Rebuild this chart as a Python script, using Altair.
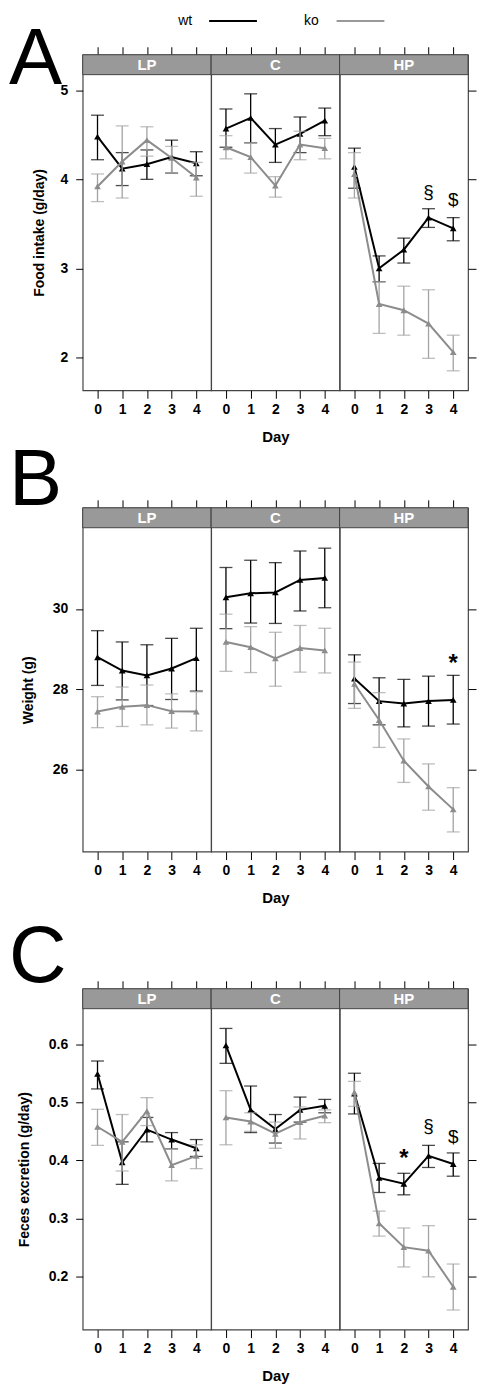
import altair as alt
import pandas as pd

days = [0, 1, 2, 3, 4]
groups = ["LP", "C", "HP"]
genotypes = ["wt", "ko"]

# ---- A: Food intake (g/day)
food_wt_mean = {"LP": [4.48, 4.12, 4.17, 4.25, 4.18], "C": [4.57, 4.69, 4.39, 4.51, 4.66], "HP": [4.14, 3.00, 3.21, 3.57, 3.45]}
food_wt_lo = {"LP": [4.22, 3.93, 4.00, 4.07, 4.04], "C": [4.36, 4.41, 4.19, 4.30, 4.49], "HP": [3.90, 2.85, 3.06, 3.46, 3.31]}
food_wt_hi = {"LP": [4.72, 4.30, 4.33, 4.44, 4.31], "C": [4.79, 4.96, 4.57, 4.70, 4.80], "HP": [4.35, 3.14, 3.34, 3.67, 3.57]}
food_ko_mean = {"LP": [3.92, 4.20, 4.44, 4.24, 4.02], "C": [4.36, 4.25, 3.93, 4.39, 4.35], "HP": [4.06, 2.60, 2.53, 2.38, 2.06]}
food_ko_lo = {"LP": [3.75, 3.79, 4.26, 4.07, 3.81], "C": [4.23, 4.07, 3.80, 4.22, 4.23], "HP": [3.79, 2.27, 2.25, 1.99, 1.85]}
food_ko_hi = {"LP": [4.06, 4.60, 4.59, 4.37, 4.19], "C": [4.49, 4.41, 4.03, 4.54, 4.46], "HP": [4.30, 2.85, 2.80, 2.76, 2.25]}
food_note_group = ["HP", "HP"]
food_note_day = [3, 4]
food_note_y = [3.86, 3.77]
food_note_label = ["§", "$"]

# ---- B: Weight (g)
weight_wt_mean = {"LP": [28.80, 28.47, 28.35, 28.52, 28.78], "C": [30.29, 30.39, 30.41, 30.72, 30.77], "HP": [28.27, 27.71, 27.65, 27.71, 27.74]}
weight_wt_lo = {"LP": [28.10, 27.74, 27.60, 27.75, 27.96], "C": [29.51, 29.65, 29.64, 29.95, 30.03], "HP": [27.65, 27.12, 27.07, 27.09, 27.14]}
weight_wt_hi = {"LP": [29.46, 29.18, 29.11, 29.27, 29.52], "C": [31.03, 31.21, 31.15, 31.44, 31.51], "HP": [28.86, 28.29, 28.25, 28.33, 28.35]}
weight_ko_mean = {"LP": [27.45, 27.57, 27.61, 27.46, 27.45], "C": [29.18, 29.05, 28.77, 29.03, 28.97], "HP": [28.14, 27.24, 26.23, 25.59, 25.02]}
weight_ko_lo = {"LP": [27.05, 27.08, 27.12, 27.04, 26.97], "C": [28.45, 28.42, 28.08, 28.43, 28.41], "HP": [27.53, 26.56, 25.69, 25.00, 24.46]}
weight_ko_hi = {"LP": [27.82, 28.06, 28.11, 27.89, 27.94], "C": [29.87, 29.56, 29.42, 29.59, 29.52], "HP": [28.68, 27.92, 26.77, 26.15, 25.56]}
weight_note_group = ["HP"]
weight_note_day = [4]
weight_note_y = [28.78]
weight_note_label = ["*"]

# ---- C: Feces excretion (g/day)
feces_wt_mean = {"LP": [0.549, 0.397, 0.453, 0.436, 0.421], "C": [0.598, 0.487, 0.454, 0.487, 0.494], "HP": [0.515, 0.370, 0.360, 0.408, 0.394]}
feces_wt_lo = {"LP": [0.523, 0.359, 0.432, 0.420, 0.407], "C": [0.567, 0.448, 0.430, 0.466, 0.482], "HP": [0.480, 0.345, 0.341, 0.388, 0.373]}
feces_wt_hi = {"LP": [0.571, 0.432, 0.474, 0.448, 0.436], "C": [0.627, 0.528, 0.479, 0.509, 0.505], "HP": [0.550, 0.395, 0.378, 0.426, 0.413]}
feces_ko_mean = {"LP": [0.458, 0.432, 0.485, 0.392, 0.408], "C": [0.474, 0.467, 0.446, 0.466, 0.477], "HP": [0.517, 0.292, 0.251, 0.245, 0.183]}
feces_ko_lo = {"LP": [0.426, 0.382, 0.460, 0.365, 0.386], "C": [0.427, 0.450, 0.421, 0.437, 0.465], "HP": [0.493, 0.270, 0.217, 0.200, 0.143]}
feces_ko_hi = {"LP": [0.488, 0.479, 0.508, 0.420, 0.427], "C": [0.520, 0.482, 0.466, 0.492, 0.487], "HP": [0.536, 0.313, 0.284, 0.288, 0.222]}
feces_note_group = ["HP", "HP", "HP"]
feces_note_day = [2, 3, 4]
feces_note_y = [0.412, 0.460, 0.440]
feces_note_label = ["*", "§", "$"]

# ---- styling
FONT = "Liberation Sans"
FRAME = "#444444"
STRIP_FILL = "#999999"
LINE_COLOR = {"wt": "#000000", "ko": "#8c8c8c"}
BAR_COLOR = {"wt": "#000000", "ko": "#a3a3a3"}
LEGEND_COLOR = {"wt": "#000000", "ko": "#999999"}
PW = 129
STRIP_H = 20
X_DOM = [-0.6, 4.6]


def build_df(means, los, his):
    rows = []
    for gt in genotypes:
        for g in groups:
            for i, d in enumerate(days):
                rows.append({"genotype": gt, "group": g, "day": d,
                             "mean": means[gt][g][i], "lo": los[gt][g][i], "hi": his[gt][g][i]})
    return pd.DataFrame(rows)


def notes_df(g, d, y, lab):
    return pd.DataFrame({"group": g, "day": d, "y": y, "label": lab})


def one(text):
    return pd.DataFrame({"t": [text]})


def make_panel(df, notes, g, idx, spec, extras):
    H = spec["H"]
    xs = alt.Scale(domain=X_DOM, nice=False, zero=False)
    ys = alt.Scale(domain=spec["ydom"], nice=False, zero=False)
    bottom_axis = alt.Axis(orient="bottom", values=days, format="d",
                           title="Day" if idx == 1 else None,
                           tickSize=8, labelPadding=4, titlePadding=13,
                           domain=False, grid=False)
    top_axis = alt.Axis(orient="top", values=days, labels=False, title=None,
                        tickSize=8, domain=False, grid=False)
    if idx == 0:
        yaxis = alt.Axis(orient="left", values=spec["yticks"], format=spec["yfmt"],
                         title=spec["ytitle"], tickSize=7, labelPadding=8,
                         titleAngle=270, titleBaseline="middle", titleAlign="center",
                         titleX=spec["title_x"], titleY=spec["title_y"],
                         domain=False, grid=False)
    elif idx == 2:
        yaxis = alt.Axis(orient="right", values=spec["yticks"], labels=False, title=None,
                         tickSize=8, domain=False, grid=False)
    else:
        yaxis = None

    d = df[df.group == g]
    layers = []
    layers.append(alt.Chart(one(g)).mark_rect(fill=STRIP_FILL, stroke=FRAME, strokeWidth=1).encode(
        x=alt.value(0), x2=alt.value(PW), y=alt.value(0), y2=alt.value(STRIP_H)))
    layers.append(alt.Chart(one(g)).mark_text(font=FONT, fontSize=15, fontWeight="bold",
                                              color="white", baseline="middle", align="center").encode(
        text="t:N", x=alt.value(PW / 2), y=alt.value(STRIP_H / 2 + 0.5)))

    for gt in genotypes:
        dg = alt.Chart(d[d.genotype == gt])
        bc = BAR_COLOR[gt]
        lc = LINE_COLOR[gt]
        first = gt == "wt"
        layers.append(dg.mark_rule(color=bc, strokeWidth=1.3).encode(
            x=alt.X("day:Q", scale=xs, axis=bottom_axis if first else None),
            y=alt.Y("lo:Q", scale=ys, axis=yaxis if (first and yaxis is not None) else None),
            y2="hi:Q"))
        for fld in ["lo", "hi"]:
            layers.append(dg.mark_tick(orient="horizontal", size=13, thickness=1.3, color=bc).encode(
                x=alt.X("day:Q", scale=xs, axis=None),
                y=alt.Y(f"{fld}:Q", scale=ys, axis=None)))
        layers.append(dg.mark_line(color=lc, strokeWidth=2).encode(
            x=alt.X("day:Q", scale=xs, axis=top_axis if first else None),
            y=alt.Y("mean:Q", scale=ys, axis=None)))
        layers.append(dg.mark_point(shape="triangle-up", filled=True, size=45, color=lc, opacity=1).encode(
            x=alt.X("day:Q", scale=xs, axis=None),
            y=alt.Y("mean:Q", scale=ys, axis=None)))

    n = notes[notes.group == g]
    if len(n):
        star = n[n.label == "*"]
        other = n[n.label != "*"]
        if len(other):
            layers.append(alt.Chart(other).mark_text(font=FONT, fontSize=19, color="black",
                                                     baseline="middle", align="center").encode(
                text="label:N", x=alt.X("day:Q", scale=xs, axis=None),
                y=alt.Y("y:Q", scale=ys, axis=None)))
        if len(star):
            layers.append(alt.Chart(star).mark_text(font=FONT, fontSize=24, fontWeight="bold", color="black",
                                                    baseline="middle", align="center", dy=6).encode(
                text="label:N", x=alt.X("day:Q", scale=xs, axis=None),
                y=alt.Y("y:Q", scale=ys, axis=None)))
    if idx == 0:
        layers.extend(extras)
    return alt.layer(*layers).resolve_axis(x="independent", y="independent").properties(width=PW, height=H)


def letter(txt, y):
    return alt.Chart(one(txt)).mark_text(font=FONT, fontSize=80, color="black",
                                         baseline="alphabetic", align="left").encode(
        text="t:N", x=alt.value(-74), y=alt.value(y))


# invisible top guard so that every text box stays inside the drawing
top_guard = alt.Chart(one("")).mark_rect(opacity=0).encode(
    x=alt.value(0), x2=alt.value(10), y=alt.value(-43), y2=alt.value(-42))

legend_text_x = {"wt": 110, "ko": 237}
legend_line_x = {"wt": (127, 175), "ko": (255, 303)}
legend_layers = []
for gt in genotypes:
    legend_layers.append(alt.Chart(one(gt)).mark_text(font=FONT, fontSize=14, color="black",
                                                       baseline="middle", align="right").encode(
        text="t:N", x=alt.value(legend_text_x[gt]), y=alt.value(-34)))
    legend_layers.append(alt.Chart(one(gt)).mark_rule(color=LEGEND_COLOR[gt], strokeWidth=2).encode(
        x=alt.value(legend_line_x[gt][0]), x2=alt.value(legend_line_x[gt][1]), y=alt.value(-34)))

figs = [
    dict(df=build_df({"wt": food_wt_mean, "ko": food_ko_mean}, {"wt": food_wt_lo, "ko": food_ko_lo},
                     {"wt": food_wt_hi, "ko": food_ko_hi}),
         notes=notes_df(food_note_group, food_note_day, food_note_y, food_note_label),
         spec=dict(H=337, ydom=[1.631, 5.399], yticks=[2, 3, 4, 5], yfmt="d",
                   ytitle="Food intake (g/day)", title_x=-43, title_y=178.5),
         extras=[top_guard, letter("A", 29.5)] + legend_layers),
    dict(df=build_df({"wt": weight_wt_mean, "ko": weight_ko_mean}, {"wt": weight_wt_lo, "ko": weight_ko_lo},
                     {"wt": weight_wt_hi, "ko": weight_ko_hi}),
         notes=notes_df(weight_note_group, weight_note_day, weight_note_y, weight_note_label),
         spec=dict(H=345.3, ydom=[23.97, 32.513], yticks=[26, 28, 30], yfmt="d",
                   ytitle="Weight (g)", title_x=-54, title_y=182.8),
         extras=[letter("B", -2.7)]),
    dict(df=build_df({"wt": feces_wt_mean, "ko": feces_ko_mean}, {"wt": feces_wt_lo, "ko": feces_ko_lo},
                     {"wt": feces_wt_hi, "ko": feces_ko_hi}),
         notes=notes_df(feces_note_group, feces_note_day, feces_note_y, feces_note_label),
         spec=dict(H=342.3, ydom=[0.1093, 0.6952], yticks=[0.2, 0.3, 0.4, 0.5, 0.6], yfmt=".1f",
                   ytitle="Feces excretion (g/day)", title_x=-58, title_y=181.2),
         extras=[letter("C", -6.7)]),
]
gaps = [117.7, 136.7]


def spacer(h):
    return alt.Chart(one("")).mark_point(opacity=0).encode(
        x=alt.value(0), y=alt.value(0)).properties(width=PW, height=h, view=alt.ViewBackground(stroke="transparent"))


cells = []
for fi, f in enumerate(figs):
    for idx, g in enumerate(groups):
        cells.append(make_panel(f["df"], f["notes"], g, idx, f["spec"], f["extras"]))
    if fi < len(gaps):
        for _ in range(3):
            cells.append(spacer(gaps[fi]))

chart = alt.concat(*cells, columns=3, spacing=0, bounds="flush", align="each").properties(
    padding={"left": 0, "top": 0, "right": 0, "bottom": 0}
).configure_view(stroke=FRAME, strokeWidth=1.2).configure_axis(
    labelFont=FONT, labelFontSize=14, labelFontWeight="bold", labelColor="black",
    titleFont=FONT, titleFontSize=14, titleFontWeight="bold", titleColor="black",
    tickColor="black", tickWidth=1
).configure_axisBottom(titleFontSize=15)

chart.save("out.html", embed_options={"renderer": "svg", "actions": False})
